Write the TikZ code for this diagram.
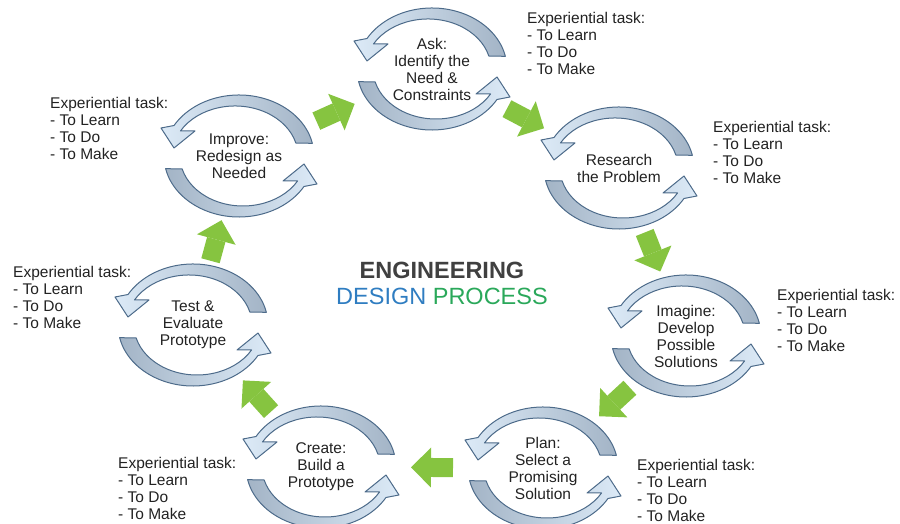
\documentclass[tikz,border=0pt]{standalone}
\usepackage{fontspec}
\setmainfont{Liberation Sans}
\usetikzlibrary{arrows.meta,calc}
\definecolor{ringdark}{HTML}{A3B4C6}
\definecolor{ringlight}{HTML}{DCEAF7}
\definecolor{ringline}{HTML}{4D6B8A}
\definecolor{leaf}{HTML}{86C440}
\definecolor{ink}{HTML}{222222}
\definecolor{titlegray}{HTML}{404040}
\definecolor{designblue}{HTML}{2F7DC1}
\definecolor{processgreen}{HTML}{2AA85A}

\begin{document}
\begin{tikzpicture}[x=1pt,y=1pt,
    ring/.style={draw=ringline,line width=1pt,line join=round},
    stageloop/.pic={
      \draw[ring,left color=ringlight,right color=ringdark]
        (73.36,12.68) arc[start angle=12,end angle=150,x radius=75pt,y radius=61pt]
        -- (-78,28) -- (-65,8) -- (-44,25) -- (-58.56,25)
        arc[start angle=150,end angle=15,x radius=63pt,y radius=50pt] -- cycle;
      \draw[ring,left color=ringdark,right color=ringlight]
        (-73.36,-12.68) arc[start angle=192,end angle=330,x radius=75pt,y radius=61pt]
        -- (78,-28) -- (65,-8) -- (44,-25) -- (58.56,-25)
        arc[start angle=330,end angle=195,x radius=63pt,y radius=50pt] -- cycle;},
    stage/.style={align=center,inner sep=0pt,text=ink,font=\fontsize{15.5}{17}\selectfont},
    task/.style={align=left,anchor=north west,inner sep=0pt,text=ink,font=\fontsize{15.5}{17}\selectfont},
    go/.style={draw=leaf,line width=19pt,-{Triangle[length=20pt,width=40pt,line width=0pt]}}]
  \useasboundingbox (0,0) rectangle (900,524);

  % stages round the loop
  \node[stage] (ask) at (432,455) {Ask:\\Identify the\\Need \&\\Constraints};
  \node[stage] (research) at (619,356) {Research\\the Problem};
  \node[stage] (imagine) at (686,188) {Imagine:\\Develop\\Possible\\Solutions};
  \node[stage] (plan) at (543,56) {Plan:\\Select a\\Promising\\Solution};
  \node[stage] (create) at (321,57) {Create:\\Build a\\Prototype};
  \node[stage] (test) at (193,199) {Test \&\\Evaluate\\Prototype};
  \node[stage] (improve) at (239,368) {Improve:\\Redesign as\\Needed};
  \foreach \s in {ask,research,imagine,plan,create,test,improve}
    \pic at (\s) {stageloop};

  % green arrows between stages
  \foreach \a/\b in {improve/ask,ask/research,research/imagine,imagine/plan,
                     plan/create,create/test,test/improve}
    \draw[go] ($(\a)!0.5!(\b)!21pt!(\a)$) -- ($(\a)!0.5!(\b)!21pt!(\b)$);

  \node[align=center,font=\fontsize{23.5}{26}\selectfont] (title) at (442,241)
    {\textbf{\color{titlegray}ENGINEERING}\\{\color{designblue}DESIGN} {\color{processgreen}PROCESS}};

  % experiential tasks
  \node[task] (asktask) at (527,511.6) {Experiential task:\\- To Learn\\- To Do\\- To Make};
  \node[task] (improvetask) at (50,426.6) {Experiential task:\\- To Learn\\- To Do\\- To Make};
  \node[task] (researchtask) at (713,402.6) {Experiential task:\\- To Learn\\- To Do\\- To Make};
  \node[task] (testtask) at (13,257.6) {Experiential task:\\- To Learn\\- To Do\\- To Make};
  \node[task] (imaginetask) at (777,234.6) {Experiential task:\\- To Learn\\- To Do\\- To Make};
  \node[task] (createtask) at (118,66.6) {Experiential task:\\- To Learn\\- To Do\\- To Make};
  \node[task] (plantask) at (637,64.6) {Experiential task:\\- To Learn\\- To Do\\- To Make};
\end{tikzpicture}
\end{document}
